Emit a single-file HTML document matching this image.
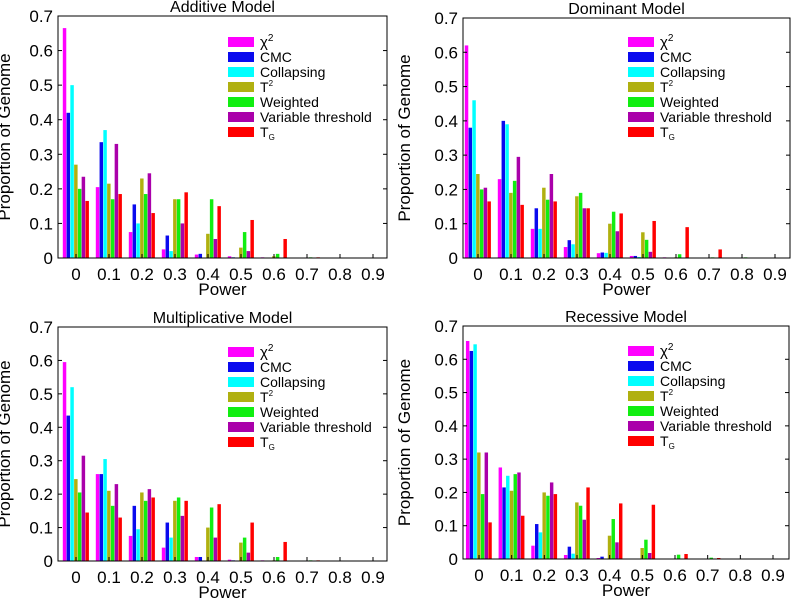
<!DOCTYPE html>
<html><head><meta charset="utf-8"><style>
html,body{margin:0;padding:0;background:#fff;}
svg{display:block;font-family:"Liberation Sans",Arial,sans-serif;}
</style></head><body>
<svg id="chart" width="793" height="603" viewBox="0 0 793 603" xmlns="http://www.w3.org/2000/svg"></svg>
<script>
const categories = ["0","0.1","0.2","0.3","0.4","0.5","0.6","0.7","0.8","0.9"];
const yTicks = [0,0.1,0.2,0.3,0.4,0.5,0.6,0.7];
const seriesNames = ["χ2","CMC","Collapsing","T2","Weighted","Variable threshold","TG"];
const panelTitles = ["Additive Model","Dominant Model","Multiplicative Model","Recessive Model"];
// values[group][series]
const additive = [
 [0.665,0.42,0.50,0.27,0.20,0.235,0.165],
 [0.205,0.335,0.37,0.215,0.17,0.33,0.185],
 [0.075,0.155,0.10,0.23,0.185,0.245,0.13],
 [0.025,0.065,0.02,0.17,0.17,0.10,0.19],
 [0.01,0.012,0,0.07,0.17,0.055,0.15],
 [0.005,0.002,0,0.03,0.075,0.02,0.11],
 [0.002,0,0,0.005,0.012,0,0.055],
 [0,0,0,0,0.002,0,0.002],
 [0,0,0,0,0,0,0],
 [0,0,0,0,0,0,0]];
const dominant = [
 [0.62,0.38,0.46,0.245,0.20,0.205,0.165],
 [0.23,0.40,0.39,0.19,0.225,0.295,0.155],
 [0.085,0.145,0.085,0.205,0.17,0.245,0.165],
 [0.032,0.052,0.04,0.18,0.19,0.145,0.145],
 [0.014,0.016,0.015,0.10,0.135,0.078,0.13],
 [0.006,0.006,0.003,0.075,0.053,0.018,0.108],
 [0.002,0,0,0.002,0.011,0,0.09],
 [0,0,0,0,0.002,0,0.025],
 [0,0,0,0,0.002,0,0],
 [0,0,0,0,0,0,0]];
const multiplicative = [
 [0.595,0.435,0.52,0.245,0.205,0.315,0.145],
 [0.26,0.26,0.305,0.21,0.165,0.23,0.13],
 [0.075,0.165,0.095,0.205,0.18,0.215,0.19],
 [0.04,0.115,0.07,0.18,0.19,0.135,0.18],
 [0.012,0.012,0,0.10,0.16,0.07,0.17],
 [0.004,0.002,0,0.055,0.07,0.025,0.115],
 [0.002,0,0,0.002,0.012,0,0.057],
 [0,0,0,0,0.002,0,0.002],
 [0,0,0,0,0,0,0],
 [0,0,0,0,0,0,0]];
const recessive = [
 [0.655,0.625,0.645,0.32,0.195,0.32,0.11],
 [0.275,0.215,0.25,0.205,0.255,0.26,0.13],
 [0.04,0.105,0.08,0.20,0.19,0.23,0.195],
 [0.012,0.037,0.016,0.17,0.16,0.118,0.215],
 [0.003,0.007,0,0.07,0.12,0.05,0.167],
 [0.001,0,0,0.033,0.058,0.018,0.163],
 [0,0,0,0.001,0.013,0,0.015],
 [0,0,0,0,0.004,0,0.003],
 [0,0,0,0,0,0,0],
 [0,0,0,0,0,0,0]];
const panelData = [additive, dominant, multiplicative, recessive];

const colors = ["#ff00ff","#0a0aee","#00ffff","#b0b010","#11ee11","#aa00aa","#ff0000"];
const layout = [
 {l:58,r:387,t:16,b:258,g0:76,g9:373,lx:228,ly:42,yo:48},
 {l:463,r:790,t:18,b:258,g0:478,g9:775,lx:628,ly:42,yo:53},
 {l:58,r:387,t:327,b:561,g0:76,g9:373,lx:228,ly:352,yo:48},
 {l:463,r:789,t:326,b:559,g0:479,g9:773,lx:628,ly:351,yo:53}
];
const NS="http://www.w3.org/2000/svg";
const svg=document.getElementById('chart');
function mk(tag,attrs,parent){const e=document.createElementNS(NS,tag);for(const k in attrs)e.setAttribute(k,attrs[k]);(parent||svg).appendChild(e);return e;}

panelData.forEach((data,p)=>{
  const L=layout[p];
  const g=mk('g',{});
  
  
  const y=v=>L.b-(v/0.7)*(L.b-L.t);
  const step=(L.g9-L.g0)/9;
  const x=i=>L.g0+i*step;
  const bw=step*0.8/7;
  data.forEach((grp,i)=>{
    grp.forEach((v,s)=>{
      if(v<=0) return;
      const bx=x(i)-step*0.4+s*bw;
      const r=mk('rect',{x:bx,y:y(v),width:bw-0.3,height:L.b-y(v),fill:colors[s]},g);
      
      
    });
  });
  const box=mk('rect',{x:L.l,y:L.t,width:L.r-L.l,height:L.b-L.t,fill:'none',stroke:'#000','stroke-width':1},g);
  
  
  yTicks.forEach(v=>{
    const yy=y(v);
    mk('line',{x1:L.l,x2:L.l+4,y1:yy,y2:yy,stroke:'#000'},g);
    mk('line',{x1:L.r,x2:L.r-4,y1:yy,y2:yy,stroke:'#000'},g);
    const t=mk('text',{x:L.l-5,y:yy+6,'text-anchor':'end','font-size':17},g);
    t.textContent=String(v);
    
    
  });
  categories.forEach((c,i)=>{
    mk('line',{x1:x(i),x2:x(i),y1:L.b,y2:L.b-4,stroke:'#000'},g);
    const t=mk('text',{x:x(i),y:L.b+22,'text-anchor':'middle','font-size':17},g);
    t.textContent=c;
    
    
  });
  const cx=(L.l+L.r)/2;
  const tt=mk('text',{x:cx,y:L.t-4,'text-anchor':'middle','font-size':16},g);
  tt.textContent=panelTitles[p];
  
  
  const xl=mk('text',{x:cx,y:L.b+37,'text-anchor':'middle','font-size':17},g);
  xl.textContent='Power';
  
  
  const ym=(L.t+L.b)/2, yx=L.l-L.yo;
  const yl=mk('text',{x:yx,y:ym,'text-anchor':'middle','font-size':17,transform:`rotate(-90 ${yx} ${ym})`},g);
  yl.textContent='Proportion of Genome';
  
  
  const lg=mk('g',{},g);
  
  
  seriesNames.forEach((n,s)=>{
    const ry=L.ly+s*15;
    const sw=mk('rect',{x:L.lx,y:ry-5,width:26,height:10,fill:colors[s]},lg);
    
    
    const t=mk('text',{x:L.lx+32,y:ry+5,'font-size':14},lg);
    
    
    if(s===0){t.innerHTML='χ<tspan font-size="10" dy="-6">2</tspan>';t.setAttribute('font-size','15');}
    else if(s===3){t.innerHTML='T<tspan font-size="8" dy="-6">2</tspan>';}
    else if(s===6){t.innerHTML='T<tspan font-size="8" dy="3">G</tspan>';}
    else t.textContent=n;
  });
});
</script>
</body></html>
